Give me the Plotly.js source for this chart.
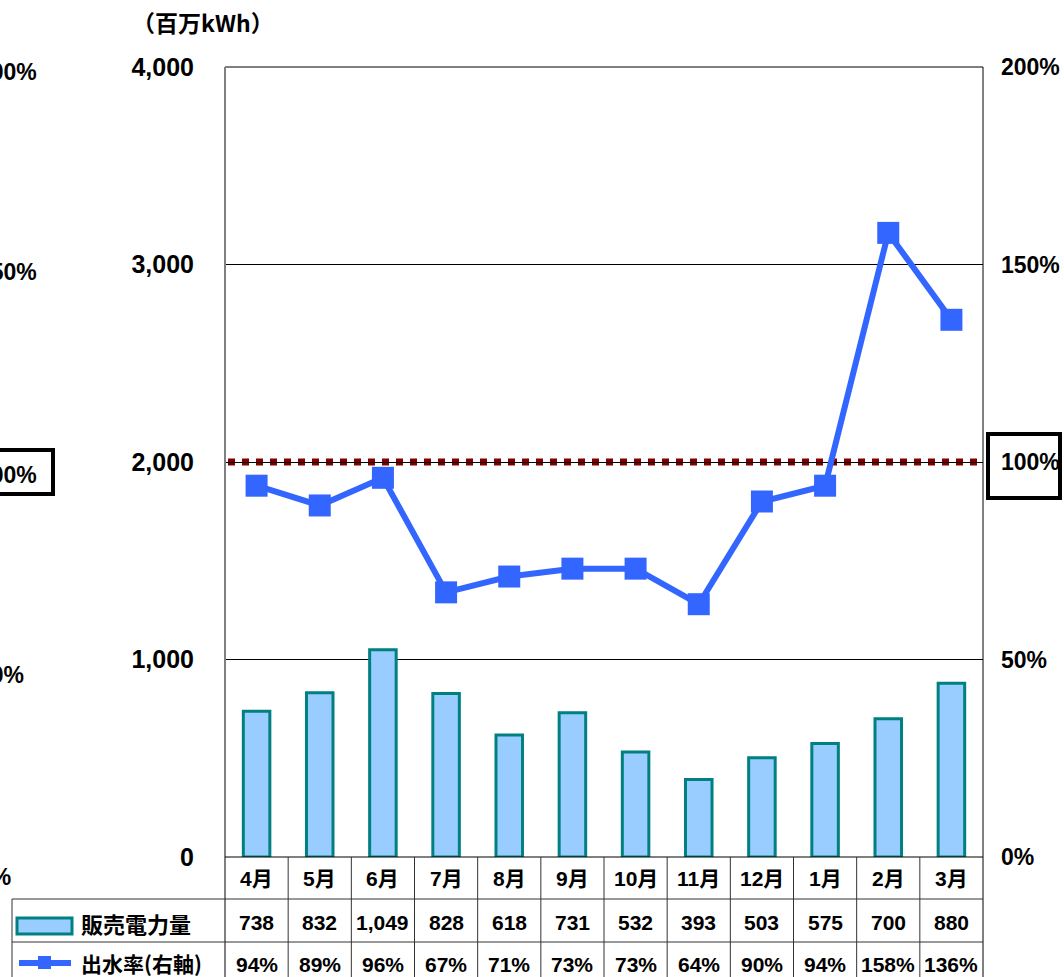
<!DOCTYPE html>
<html>
<head>
<meta charset="utf-8">
<script src="https://cdn.plot.ly/plotly-3.0.1.min.js"></script>
<style>
  html, body { margin: 0; padding: 0; background: #fff; overflow: hidden; }
  #chart { width: 1064px; height: 977px; }
</style>
</head>
<body>
<div id="chart"></div>
<script>
// ---- data ----
const months = ["4月","5月","6月","7月","8月","9月","10月","11月","12月","1月","2月","3月"];
const salesValues = [738, 832, 1049, 828, 618, 731, 532, 393, 503, 575, 700, 880];
const waterRates = [94, 89, 96, 67, 71, 73, 73, 64, 90, 94, 158, 136];
const salesName = "販売電力量";
const rateName = "出水率(右軸)";
const unitLabel = "（百万kWh）";
const leftTicks = [0, 1000, 2000, 3000, 4000];
const rightTicks = [0, 50, 100, 150, 200];
const rightTickText = rightTicks.map(t => t + "%");
const referenceRate = 100;

// ---- layout helpers (pixel geometry) ----
const W = 1064, H = 977;
const L = 225, R = 983, T = 67, B = 857;
const px = v => (v - L) / (R - L);
const py = v => (B - v) / (B - T);

const FONT = "Liberation Sans, Noto Sans CJK JP, sans-serif";
const JFONT = "Noto Sans CJK JP, Liberation Sans, sans-serif";

const bars = {
  type: "bar",
  x: months,
  y: salesValues,
  name: salesName,
  width: 0.42,
  marker: { color: "#99CCFF", line: { color: "#008080", width: 3 } },
  hoverinfo: "skip"
};
const line = {
  type: "scatter",
  mode: "lines+markers",
  x: months,
  y: waterRates,
  name: rateName,
  yaxis: "y2",
  line: { color: "#3366FF", width: 6 },
  marker: { symbol: "square", size: 22, color: "#3366FF" },
  hoverinfo: "skip"
};

const shapes = [];
const annotations = [];

// plot frame
shapes.push({ type: "line", xref: "paper", yref: "paper", x0: 0, x1: 1, y0: 1, y1: 1, line: { color: "#000", width: 1 } });
shapes.push({ type: "line", xref: "paper", yref: "paper", x0: 0, x1: 0, y0: 1, y1: py(977), line: { color: "#808080", width: 2 } });
shapes.push({ type: "line", xref: "paper", yref: "paper", x0: 1, x1: 1, y0: 1, y1: py(977), line: { color: "#000", width: 1 } });
shapes.push({ type: "line", xref: "paper", yref: "paper", x0: 0, x1: 1, y0: 0, y1: 0, line: { color: "#000", width: 1 } });

// reference line at 100%
shapes.push({ type: "line", xref: "paper", yref: "y2", x0: px(228), x1: 1, y0: referenceRate, y1: referenceRate,
  layer: "below", line: { color: "#800000", width: 7, dash: "7px,7px" } });

// table grid
for (let k = 1; k < months.length; k++) {
  shapes.push({ type: "line", xref: "x", yref: "paper", x0: k - 0.5, x1: k - 0.5, y0: 0, y1: py(977), line: { color: "#333", width: 1 } });
}
shapes.push({ type: "line", xref: "paper", yref: "paper", x0: px(12), x1: 1, y0: py(899), y1: py(899), line: { color: "#333", width: 1 } });
shapes.push({ type: "line", xref: "paper", yref: "paper", x0: px(12), x1: 1, y0: py(942), y1: py(942), line: { color: "#333", width: 1 } });
shapes.push({ type: "line", xref: "paper", yref: "paper", x0: px(12), x1: px(12), y0: py(899), y1: py(977), line: { color: "#333", width: 1 } });

// legend symbols in table
shapes.push({ type: "rect", xref: "paper", yref: "paper", x0: px(17), x1: px(72), y0: py(934), y1: py(918),
  fillcolor: "#99CCFF", line: { color: "#008080", width: 3 } });
shapes.push({ type: "line", xref: "paper", yref: "paper", x0: px(19), x1: px(71), y0: py(963), y1: py(963),
  line: { color: "#3366FF", width: 6 } });
shapes.push({ type: "rect", xref: "paper", yref: "paper", x0: px(38), x1: px(51), y0: py(969), y1: py(956),
  fillcolor: "#3366FF", line: { width: 0 } });

// boxes around 100% labels
shapes.push({ type: "rect", xref: "paper", yref: "paper", x0: px(988), x1: px(1060), y0: py(498), y1: py(434),
  line: { color: "#000", width: 4 } });
shapes.push({ type: "rect", xref: "paper", yref: "paper", x0: px(-60), x1: px(53), y0: py(494), y1: py(450),
  line: { color: "#000", width: 4 } });

// unit label
annotations.push({ xref: "paper", yref: "paper", x: px(203), y: py(22), text: "<b>" + unitLabel + "</b>",
  showarrow: false, xanchor: "center", yanchor: "middle", font: { family: JFONT, size: 23, color: "#000" } });

// table text
months.forEach((m, i) => {
  annotations.push({ xref: "x", yref: "paper", x: m, y: py(879), text: "<b>" + m + "</b>", showarrow: false,
    xanchor: "center", yanchor: "middle", font: { family: FONT, size: 21, color: "#000" } });
  annotations.push({ xref: "x", yref: "paper", x: m, y: py(922), text: "<b>" + salesValues[i].toLocaleString("en-US") + "</b>", showarrow: false,
    xanchor: "center", yanchor: "middle", font: { family: FONT, size: 21, color: "#000" } });
  annotations.push({ xref: "x", yref: "paper", x: m, y: py(964), text: "<b>" + waterRates[i] + "%</b>", showarrow: false,
    xanchor: "center", yanchor: "middle", font: { family: FONT, size: 21, color: "#000" } });
});
annotations.push({ xref: "paper", yref: "paper", x: px(79), y: py(923), text: "<b>" + salesName + "</b>", showarrow: false,
  xanchor: "left", yanchor: "middle", font: { family: JFONT, size: 22, color: "#000" } });
annotations.push({ xref: "paper", yref: "paper", x: px(79), y: py(963), text: "<b>" + rateName + "</b>", showarrow: false,
  xanchor: "left", yanchor: "middle", font: { family: JFONT, size: 21, color: "#000" } });

// clipped ghost copy of right-axis labels at left edge (as in the reference)
const ghostY = [877, 675, 475, 272, 72];
rightTickText.forEach((t, i) => {
  annotations.push({ xref: "paper", yref: "paper", x: px(-24), y: py(ghostY[i]), text: "<b>" + t + "</b>", showarrow: false,
    xanchor: "left", yanchor: "middle", font: { family: FONT, size: 23, color: "#000" } });
});

const layout = {
  width: W, height: H,
  margin: { l: L, r: W - R, t: T, b: H - B, pad: 0 },
  paper_bgcolor: "#fff", plot_bgcolor: "#fff",
  showlegend: false,
  font: { family: FONT, color: "#000" },
  xaxis: {
    type: "category", range: [-0.5, months.length - 0.5],
    showticklabels: false, ticks: "", showgrid: false, zeroline: false, showline: false, fixedrange: true
  },
  yaxis: {
    range: [0, 4000], tickmode: "array", tickvals: leftTicks, ticktext: leftTicks.map(t => t.toLocaleString("en-US")),
    showgrid: true, gridcolor: "#000", gridwidth: 1, zeroline: false, showline: false,
    ticks: "", ticklabelstandoff: 30,
    tickfont: { family: FONT, size: 25, color: "#000", weight: "bold" }, fixedrange: true
  },
  yaxis2: {
    range: [0, 200], tickmode: "array", tickvals: rightTicks, ticktext: rightTickText, overlaying: "y", side: "right",
    showgrid: false, zeroline: false, showline: false, ticks: "", ticklabelstandoff: 17,
    tickfont: { family: FONT, size: 23, color: "#000", weight: "bold" }, fixedrange: true
  },
  shapes: shapes,
  annotations: annotations
};

Plotly.newPlot("chart", [bars, line], layout, { staticPlot: true, displayModeBar: false });
</script>
</body>
</html>
